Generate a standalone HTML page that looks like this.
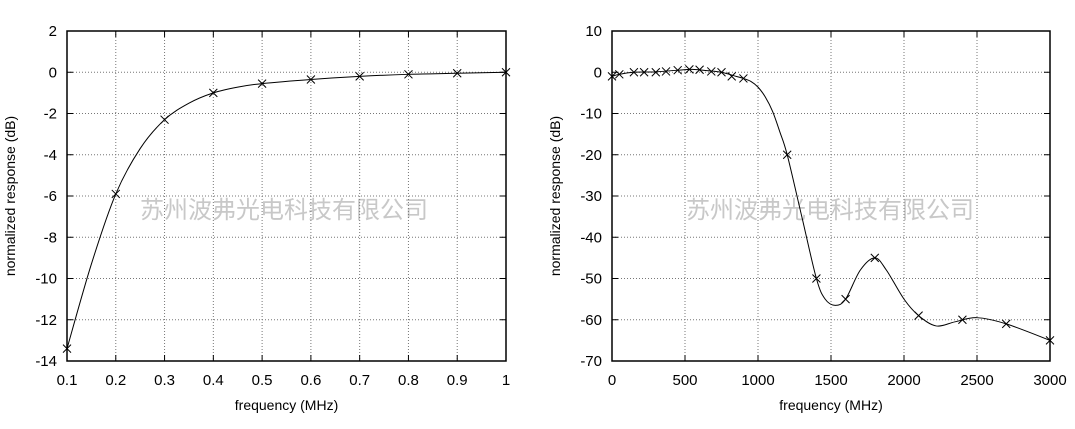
<!DOCTYPE html>
<html><head><meta charset="utf-8"><style>
body{margin:0;background:#fff}
svg text{font-family:"Liberation Sans",Arial,sans-serif;fill:#000}
.wm{font-family:"Liberation Sans","Noto Sans CJK SC",sans-serif;fill:#c8c8c8;font-size:24px}
</style></head><body>
<svg id="s" width="1075" height="424" xmlns="http://www.w3.org/2000/svg"></svg>
<script>
const s=document.getElementById('s');let h='';
function plot(o){
 const {x0,x1,y0,y1,xmin,xmax,ymin,ymax,xt,yt,fx,pts,curve,ylab,wx}=o;
 const X=v=>x0+(v-xmin)/(xmax-xmin)*(x1-x0), Y=v=>y1-(v-ymin)/(ymax-ymin)*(y1-y0);
 h+=`<text class="wm" x="${wx}" y="218" text-anchor="middle">苏州波弗光电科技有限公司</text>`;
 xt.forEach(v=>{const x=X(v);h+=`<line x1="${x}" y1="${y0}" x2="${x}" y2="${y1}" stroke="#777" stroke-dasharray="1,2" stroke-width="1"/><line x1="${x}" y1="${y1}" x2="${x}" y2="${y1-6}" stroke="#000"/><line x1="${x}" y1="${y0}" x2="${x}" y2="${y0+6}" stroke="#000"/><text x="${x}" y="${y1+24}" font-size="15" text-anchor="middle">${fx(v)}</text>`;});
 yt.forEach(v=>{const y=Y(v);h+=`<line x1="${x0}" y1="${y}" x2="${x1}" y2="${y}" stroke="#777" stroke-dasharray="1,2" stroke-width="1"/><line x1="${x0}" y1="${y}" x2="${x0+6}" y2="${y}" stroke="#000"/><line x1="${x1}" y1="${y}" x2="${x1-6}" y2="${y}" stroke="#000"/><text x="${x0-10}" y="${y+5}" font-size="15" text-anchor="end">${v}</text>`;});
 h+=`<rect x="${x0}" y="${y0}" width="${x1-x0}" height="${y1-y0}" fill="none" stroke="#000" stroke-width="1.5"/>`;
 const P=curve.map(p=>[X(p[0]),Y(p[1])]);let d=`M${P[0][0]},${P[0][1]}`;
 for(let i=0;i<P.length-1;i++){const a=P[Math.max(0,i-1)],b=P[i],c=P[i+1],e=P[Math.min(P.length-1,i+2)];
  d+=`C${b[0]+(c[0]-a[0])/6},${b[1]+(c[1]-a[1])/6} ${c[0]-(e[0]-b[0])/6},${c[1]-(e[1]-b[1])/6} ${c[0]},${c[1]}`;}
 h+=`<path d="${d}" fill="none" stroke="#000" stroke-width="1"/>`;
 pts.forEach(p=>{const x=X(p[0]),y=Y(p[1]);h+=`<path d="M${x-4},${y-4}L${x+4},${y+4}M${x-4},${y+4}L${x+4},${y-4}" stroke="#000"/>`;});
 h+=`<text x="${(x0+x1)/2}" y="410" font-size="14" text-anchor="middle">frequency (MHz)</text>`;
 h+=`<text transform="translate(${x0-52},${(y0+y1)/2}) rotate(-90)" font-size="14" text-anchor="middle">normalized response (dB)</text>`;
}
const lp=[[0.1,-13.4],[0.2,-5.9],[0.3,-2.3],[0.4,-1.0],[0.5,-0.55],[0.6,-0.35],[0.7,-0.2],[0.8,-0.1],[0.9,-0.05],[1,0]];
plot({x0:67,x1:506,y0:31,y1:361,xmin:0.1,xmax:1,ymin:-14,ymax:2,xt:[0.1,0.2,0.3,0.4,0.5,0.6,0.7,0.8,0.9,1],yt:[2,0,-2,-4,-6,-8,-10,-12,-14],fx:v=>v==1?'1':v.toFixed(1),pts:lp,wx:284,
 curve:[[0.1,-13.4],[0.15,-9.3],[0.2,-5.9],[0.25,-3.7],[0.3,-2.3],[0.35,-1.5],[0.4,-1.0],[0.45,-0.72],[0.5,-0.55],[0.6,-0.35],[0.7,-0.2],[0.8,-0.1],[0.9,-0.05],[1,0]]});
const rp=[[0,-1],[50,-0.5],[150,0],[220,0],[300,0],[370,0.2],[450,0.5],[530,0.7],[600,0.6],[680,0.2],[750,0],[820,-1],[900,-1.5],[1200,-20],[1400,-50],[1600,-55],[1800,-45],[2100,-59],[2400,-60],[2700,-61],[3000,-65]];
plot({x0:612,x1:1050,y0:31,y1:361,xmin:0,xmax:3000,ymin:-70,ymax:10,xt:[0,500,1000,1500,2000,2500,3000],yt:[10,0,-10,-20,-30,-40,-50,-60,-70],fx:v=>v,pts:rp,wx:830,
 curve:[[0,-1],[50,-0.5],[150,0],[300,0.1],[450,0.5],[550,0.7],[650,0.4],[750,0],[850,-1],[900,-1.5],[950,-2.2],[1000,-3.6],[1050,-6],[1100,-9.5],[1150,-14.5],[1200,-20],[1300,-35],[1400,-50],[1460,-55],[1530,-56.5],[1600,-55],[1700,-48],[1800,-45],[1880,-48],[2000,-55],[2100,-59],[2220,-61.5],[2350,-60.5],[2500,-59.5],[2700,-61],[3000,-65]]});
s.innerHTML=h;
</script>
</body></html>
